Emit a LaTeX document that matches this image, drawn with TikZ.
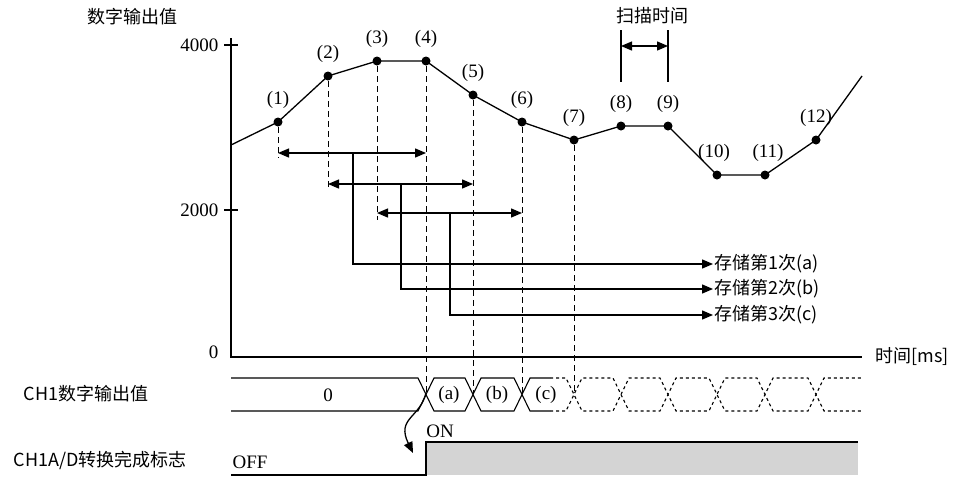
\documentclass[tikz,border=0pt]{standalone}
\usepackage{fontspec}
\setmainfont{Liberation Serif}
\newfontfamily\cjk{Noto Sans CJK SC}
\usetikzlibrary{arrows.meta,positioning}

\begin{document}
\begin{tikzpicture}[x=1pt,y=-1pt,>={Triangle[length=11pt,width=9pt]},line width=1.3pt,font=\fontsize{19}{21}\selectfont]
\tikzstyle{dot} = [circle,fill=black,inner sep=0pt,minimum size=9pt]
\tikzstyle{lbl} = [inner sep=1pt]
\tikzstyle{zh} = [inner sep=1pt,font=\cjk\fontsize{18}{20}\selectfont]
\tikzstyle{guide} = [dashed,line width=1pt,dash pattern=on 6pt off 4pt]
\tikzstyle{bus} = [line width=1.1pt]
\useasboundingbox (0,0) rectangle (962,480);
    % axes
    \coordinate (o) at (231,357);
    \coordinate (top) at (231,38);
    \coordinate (xend) at (862,357);
    \draw (top) -- (o) -- (xend);
    \draw (224,45) -- (238,45);
    \draw (224,210) -- (238,210);
    \node[zh] (ylab) at (132,17) {数字输出值};
    \node[lbl,anchor=east] (y4) at (220,45) {4000};
    \node[lbl,anchor=east] (y2) at (220,210) {2000};
    \node[lbl,anchor=east] (y0) at (220,352) {0};
    \node[zh,anchor=west] (xlab) at (874,357) {时间[ms]};
    % samples
    \coordinate (s) at (231,145);
    \node[dot] (p1) at (278,122) {};
    \node[dot] (p2) at (328,76) {};
    \node[dot] (p3) at (377,61) {};
    \node[dot] (p4) at (426,61) {};
    \node[dot] (p5) at (473,95) {};
    \node[dot] (p6) at (522,122) {};
    \node[dot] (p7) at (574,140) {};
    \node[dot] (p8) at (621,126) {};
    \node[dot] (p9) at (668,126) {};
    \node[dot] (p10) at (717,175) {};
    \node[dot] (p11) at (765,175) {};
    \node[dot] (p12) at (816,140) {};
    \coordinate (e) at (862,76);
    \draw (s) -- (p1.center) -- (p2.center) -- (p3.center) -- (p4.center) -- (p5.center) -- (p6.center)
      -- (p7.center) -- (p8.center) -- (p9.center) -- (p10.center) -- (p11.center) -- (p12.center) -- (e);
    \node[lbl,above=7pt of p1] {(1)};
    \node[lbl,above=7pt of p2] {(2)};
    \node[lbl,above=7pt of p3] {(3)};
    \node[lbl,above=7pt of p4] {(4)};
    \node[lbl,above=7pt of p5] {(5)};
    \node[lbl,above=7pt of p6] {(6)};
    \node[lbl,above=7pt of p7] {(7)};
    \node[lbl,above=7pt of p8] {(8)};
    \node[lbl,above=7pt of p9] {(9)};
    \node[lbl,above=7pt of p10,xshift=-3pt] {(10)};
    \node[lbl,above=7pt of p11,xshift=3pt] {(11)};
    \node[lbl,above=7pt of p12] {(12)};
    % guides
    \coordinate (g1) at (278,158);
    \coordinate (g2) at (328,188);
    \coordinate (g3) at (377,220);
    \coordinate (g4) at (426,393);
    \coordinate (g5) at (473,393);
    \coordinate (g6) at (522,393);
    \coordinate (g7) at (574,393);
    \draw[guide] (p1) -- (g1);
    \draw[guide] (p2) -- (g2);
    \draw[guide] (p3) -- (g3);
    \draw[guide] (p4) -- (g4);
    \draw[guide] (p5) -- (g5);
    \draw[guide] (p6) -- (g6);
    \draw[guide] (p7) -- (g7);
    % conversion windows
    \coordinate (a1) at (278,153); \coordinate (a2) at (426,153);
    \coordinate (b1) at (328,184); \coordinate (b2) at (473,184);
    \coordinate (c1) at (377,213); \coordinate (c2) at (522,213);
    \draw[<->] (a1) -- (a2);
    \draw[<->] (b1) -- (b2);
    \draw[<->] (c1) -- (c2);
    \node[zh,anchor=west] (ra) at (713,264) {存储第1次(a)};
    \node[zh,anchor=west] (rb) at (713,289) {存储第2次(b)};
    \node[zh,anchor=west] (rc) at (713,315) {存储第3次(c)};
    \coordinate (ma) at (353,153); \coordinate (mb) at (401,184); \coordinate (mc) at (450,213);
    \draw[->] (ma) |- (ra.west);
    \draw[->] (mb) |- (rb.west);
    \draw[->] (mc) |- (rc.west);
    % scan time
    \coordinate (t1) at (621,30); \coordinate (t2) at (668,30);
    \draw (t1) -- (621,82);
    \draw (t2) -- (668,82);
    \draw[<->] (621,46) -- (668,46);
    \node[zh] (scan) at (652,16) {扫描时间};
    % CH1 digital output
    \node[zh] (ch1) at (86,394) {CH1数字输出值};
    \draw[bus] (231,378) -- (418,378) -- (434,411) -- (465,411) -- (481,378) -- (514,378) -- (530,411) -- (550,411);
    \draw[bus] (231,411) -- (418,411) -- (434,378) -- (465,378) -- (481,411) -- (514,411) -- (530,378) -- (550,378);
    \draw[bus,dashed] (550,378) -- (566,378) -- (582,411) -- (613,411) -- (629,378) -- (660,378) -- (676,411) -- (709,411)
      -- (725,378) -- (757,378) -- (773,411) -- (808,411) -- (824,378) -- (862,378);
    \draw[bus,dashed] (550,411) -- (566,411) -- (582,378) -- (613,378) -- (629,411) -- (660,411) -- (676,378) -- (709,378)
      -- (725,411) -- (757,411) -- (773,378) -- (808,378) -- (824,411) -- (862,411);
    \node[lbl] (v0) at (328,395) {0};
    \node[lbl] (va) at (449,395) {(a)};
    \node[lbl] (vb) at (497,395) {(b)};
    \node[lbl] (vc) at (546,395) {(c)};
    % A/D conversion completed flag
    \node[zh] (flag) at (100,460) {CH1A/D转换完成标志};
    \fill[black!17] (426,442) rectangle (858,475);
    \draw (231,475) -- (426,475) -- (426,442) -- (858,442);
    \node[lbl] (on) at (440,431) {ON};
    \node[lbl] (off) at (250,462) {OFF};
    \coordinate (fl) at (413,453);
    \draw[->] (g4) .. controls (420,418) and (396,418) .. (fl);
\end{tikzpicture}
\end{document}
